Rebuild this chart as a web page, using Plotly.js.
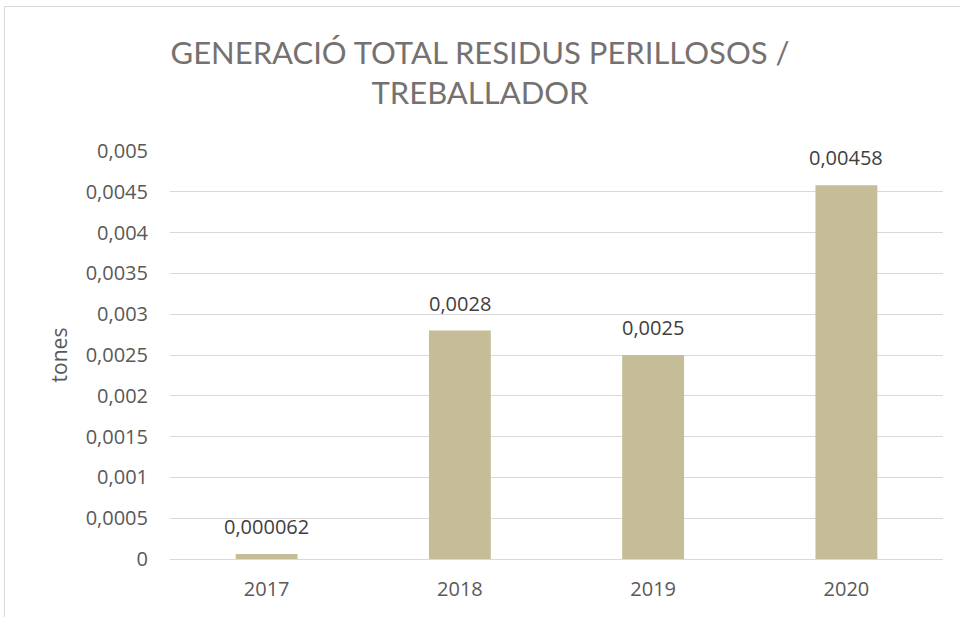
<!DOCTYPE html>
<html>
<head>
<meta charset="utf-8">
<script src="https://cdn.plot.ly/plotly-3.0.1.min.js"></script>
<style>
  body { margin: 0; background: #fff; overflow: hidden; }
  #chart { position: absolute; left: 0; top: 0; width: 960px; height: 617px; }
  #frame { position: absolute; left: 4px; top: 6px; width: 1000px; height: 700px; border: 1px solid #d9d9d9; pointer-events: none; }
</style>
</head>
<body>
<div id="frame"></div>
<div id="chart"></div>
<script>
// values
const years = ['2017', '2018', '2019', '2020'];
const residusPerTreballador = [0.000062, 0.0028, 0.0025, 0.00458];
const yTickVals = [0, 0.0005, 0.001, 0.0015, 0.002, 0.0025, 0.003, 0.0035, 0.004, 0.0045, 0.005];
const yTickText = ['0', '0,0005', '0,001', '0,0015', '0,002', '0,0025', '0,003', '0,0035', '0,004', '0,0045', '0,005'];

function comma(v) {
    return String(v).replace('.', ',');
}

const trace = {
    type: 'bar',
    x: years,
    y: residusPerTreballador,
    marker: { color: '#c4bd97' },
    hoverinfo: 'x+y'
};

// value labels sit a bit higher above the bars than plotly's outside text;
// x is the category index so '2017' is not read as a number
const valueLabels = years.map(function(yr, i) {
    return {
        x: i,
        y: residusPerTreballador[i],
        xref: 'x',
        yref: 'y',
        text: comma(residusPerTreballador[i]),
        showarrow: false,
        yanchor: 'bottom',
        yshift: 12,
        font: { family: 'Open Sans', size: 20, color: '#404040' }
    };
});

const layout = {
    width: 960,
    height: 617,
    paper_bgcolor: 'rgba(0,0,0,0)',
    plot_bgcolor: 'rgba(0,0,0,0)',
    margin: { l: 170, r: 17, t: 151, b: 58 },
    bargap: 0.68,
    showlegend: false,
    title: {
        text: 'GENERACIÓ TOTAL RESIDUS PERILLOSOS /<br>TREBALLADOR',
        font: { family: 'Lato', size: 31, color: '#767171' },
        x: 0.5,
        xanchor: 'center',
        y: 0.897,
        yanchor: 'middle'
    },
    annotations: valueLabels,
    xaxis: {
        type: 'category',
        range: [-0.5, years.length - 0.5],
        showgrid: false,
        showline: true,
        linecolor: '#d9d9d9',
        linewidth: 1,
        ticks: 'outside',
        ticklen: 12,
        tickcolor: 'rgba(0,0,0,0)',
        tickfont: { family: 'Open Sans', size: 20, color: '#595959' }
    },
    yaxis: {
        range: [0, 0.005],
        tickvals: yTickVals,
        ticktext: yTickText,
        showgrid: true,
        gridcolor: '#d9d9d9',
        gridwidth: 1,
        zeroline: false,
        showline: false,
        ticks: 'outside',
        ticklen: 17,
        tickcolor: 'rgba(0,0,0,0)',
        tickfont: { family: 'Open Sans', size: 20, color: '#595959' },
        title: {
            text: 'tones',
            font: { family: 'Open Sans', size: 21, color: '#595959' },
            standoff: 12
        }
    }
};

Plotly.newPlot('chart', [trace], layout, { displayModeBar: false, staticPlot: true });
</script>
</body>
</html>
